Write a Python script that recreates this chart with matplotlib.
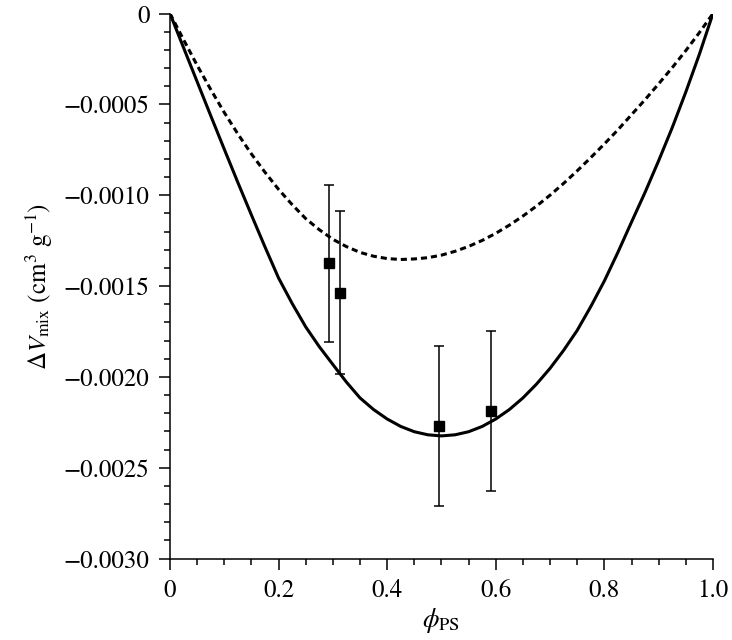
import matplotlib
matplotlib.use("Agg")
import matplotlib.pyplot as plt
from matplotlib.ticker import MultipleLocator, FixedLocator, FixedFormatter

plt.rcParams['font.family'] = ['STIXGeneral', 'DejaVu Serif']
plt.rcParams['mathtext.fontset'] = 'stix'

# --- data ---
phi = [0, 0.025, 0.05, 0.075, 0.10, 0.125, 0.15, 0.175, 0.20, 0.225, 0.25,
       0.275, 0.30, 0.325, 0.35, 0.375, 0.40, 0.425, 0.45, 0.475, 0.50,
       0.525, 0.55, 0.575, 0.60, 0.625, 0.65, 0.675, 0.70, 0.725, 0.75,
       0.775, 0.80, 0.825, 0.85, 0.875, 0.90, 0.925, 0.95, 0.975, 1.0]

# solid curve
dv_solid = [0, -0.000188, -0.000375, -0.000562, -0.000747, -0.000930,
            -0.001109, -0.001285, -0.001456, -0.001596, -0.001725, -0.001834,
            -0.001932, -0.002029, -0.002116, -0.002180, -0.002232, -0.002273,
            -0.002302, -0.002319, -0.002325, -0.002319, -0.002302, -0.002273,
            -0.002232, -0.002180, -0.002116, -0.002040, -0.001953, -0.001854,
            -0.001744, -0.001613, -0.001472, -0.001314, -0.001148, -0.000984,
            -0.000810, -0.000628, -0.000432, -0.000224, 0]

# dashed curve
dv_dashed = [0, -0.000144, -0.000285, -0.000418, -0.000545, -0.000663,
             -0.000773, -0.000874, -0.000968, -0.001052, -0.001129, -0.001190,
             -0.001243, -0.001283, -0.001315, -0.001336, -0.001349, -0.001354,
             -0.001351, -0.001344, -0.001330, -0.001309, -0.001282, -0.001249,
             -0.001210, -0.001165, -0.001115, -0.001060, -0.001000, -0.000935,
             -0.000866, -0.000793, -0.000718, -0.000640, -0.000557, -0.000474,
             -0.000387, -0.000298, -0.000204, -0.000105, 0]

# experimental points
phi_exp = [0.293, 0.314, 0.496, 0.591]
dv_exp = [-0.001375, -0.001537, -0.002270, -0.002188]
dv_err = [0.000433, 0.000450, 0.000440, 0.000440]

xticks = [0, 0.2, 0.4, 0.6, 0.8, 1.0]
xtick_labels = ['0', '0.2', '0.4', '0.6', '0.8', '1.0']
yticks = [0, -0.0005, -0.0010, -0.0015, -0.0020, -0.0025, -0.0030]
ytick_labels = ['0', '\u22120.0005', '\u22120.0010', '\u22120.0015',
                '\u22120.0020', '\u22120.0025', '\u22120.0030']

fig = plt.figure(figsize=(7.32, 6.4), dpi=100)
ax = fig.add_axes([0.2322, 0.1273, 0.7418, 0.8516])

ax.plot(phi, dv_solid, color='black', linewidth=2.2,
        solid_joinstyle='round', solid_capstyle='round')
ax.plot(phi, dv_dashed, color='black', linewidth=2.2, linestyle=(0, (2, 1.3)))
ax.errorbar(phi_exp, dv_exp, yerr=dv_err, fmt='s', color='black',
            markersize=6.5, elinewidth=1.1, capsize=3.5, capthick=1.1)

ax.set_xlim(0, 1.0)
ax.set_ylim(-0.0030, 0)

ax.xaxis.set_major_locator(FixedLocator(xticks))
ax.xaxis.set_major_formatter(FixedFormatter(xtick_labels))
ax.xaxis.set_minor_locator(MultipleLocator(0.05))
ax.yaxis.set_major_locator(FixedLocator(yticks))
ax.yaxis.set_major_formatter(FixedFormatter(ytick_labels))
ax.yaxis.set_minor_locator(MultipleLocator(0.0001))

ax.spines['top'].set_visible(False)
ax.spines['right'].set_visible(False)
for s in ['left', 'bottom']:
    ax.spines[s].set_linewidth(1.1)

ax.tick_params(which='major', direction='out', length=7.7, width=1.1,
               labelsize=18, pad=7)
ax.tick_params(which='minor', direction='out', length=4, width=1.1)

ax.set_xlabel(r'$\phi_{\rm PS}$', fontsize=19, labelpad=2)
ax.set_ylabel(r'$\Delta V_{\rm mix}$ (cm$^3$ g$^{-1}$)', fontsize=18, labelpad=6)

fig.savefig('out.png', dpi=100)
